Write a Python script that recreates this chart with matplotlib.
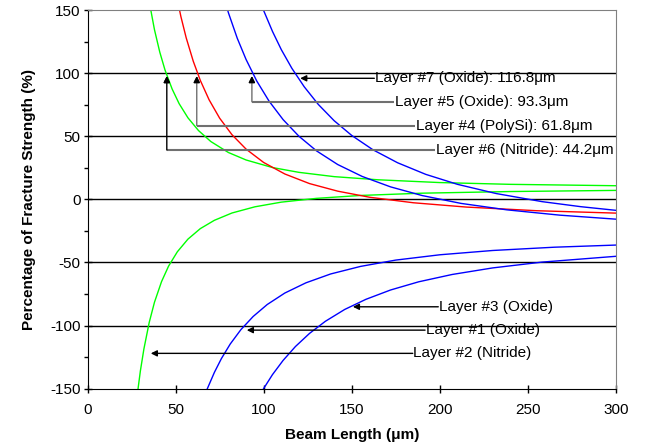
import matplotlib
matplotlib.use("Agg")
import matplotlib.pyplot as plt
from matplotlib.ticker import MultipleLocator

plt.rcParams['font.family'] = ['Liberation Sans', 'DejaVu Sans']
plt.rcParams['axes.unicode_minus'] = False

# values (beam length in um, % of fracture strength)
l6_len = [32, 35, 38, 41, 44, 48, 52, 57, 63, 70, 80, 90, 105, 120, 140, 165, 200, 240, 300]
l6_pct = [185.8, 156.8, 134.4, 116.7, 102.4, 87.5, 75.8, 64.6, 54.5, 45.8, 37.1, 31.2, 25.2,
          21.4, 18.0, 15.5, 13.3, 11.9, 10.8]

l2_len = [26, 28, 30, 32, 35, 38, 42, 46, 51, 57, 64, 72, 82, 95, 110, 130, 155, 190, 240, 300]
l2_pct = [-183.8, -157.3, -135.9, -118.5, -97.6, -81.5, -65.2, -52.9, -41.5, -31.5, -23.2,
          -16.6, -10.8, -5.9, -2.2, 0.8, 3.1, 4.9, 6.2, 7.1]

l4_len = [50, 53, 56, 60, 64, 69, 75, 82, 90, 100, 112, 126, 142, 160, 185, 215, 255, 300]
l4_pct = [164.7, 144.8, 128.0, 109.5, 94.3, 78.9, 64.3, 51.2, 39.8, 29.2, 20.1, 12.5, 6.5,
          1.7, -2.7, -6.1, -9.0, -10.9]

l5_len = [76, 80, 85, 90, 96, 103, 111, 120, 130, 142, 156, 172, 190, 212, 238, 268, 300]
l5_pct = [166.7, 147.7, 127.6, 110.8, 93.9, 77.9, 63.2, 50.0, 38.4, 27.6, 18.1, 9.9, 3.0,
          -3.2, -8.3, -12.5, -15.7]

l7_len = [96, 100, 105, 110, 116, 123, 131, 140, 150, 162, 176, 192, 210, 232, 258, 280, 300]
l7_pct = [164.6, 149.5, 133.0, 118.6, 103.8, 89.2, 75.2, 62.3, 50.6, 39.3, 29.0, 19.8, 11.9,
          4.6, -1.8, -5.8, -8.7]

l1_len = [62, 65, 68, 72, 76, 81, 87, 94, 102, 112, 124, 138, 155, 175, 200, 230, 265, 300]
l1_pct = [-174.4, -161.4, -150.0, -137.1, -126.1, -114.6, -103.3, -92.8, -83.3, -74.2, -66.1,
          -59.1, -53.1, -48.1, -43.9, -40.5, -37.9, -36.2]

l3_len = [92, 96, 100, 105, 111, 118, 126, 135, 146, 158, 172, 188, 207, 230, 258, 300]
l3_pct = [-171.1, -159.8, -149.8, -138.8, -127.6, -116.6, -106.2, -96.6, -87.2, -79.2, -71.8,
          -65.3, -59.5, -54.3, -49.7, -45.1]

GREEN = '#00FF00'
RED = '#FF0000'
BLUE = '#0000FF'
LEADER = '#707070'

fig = plt.figure(figsize=(6.45, 4.47), dpi=100)
ax = fig.add_axes([0.1357, 0.1304, 0.8194, 0.8472])

for y in [-100, -50, 0, 50, 100]:
    ax.axhline(y, color='black', lw=1.0, zorder=1)

ax.plot(l6_len, l6_pct, color=GREEN, lw=1.0, zorder=2)
ax.plot(l2_len, l2_pct, color=GREEN, lw=1.0, zorder=2)
ax.plot(l4_len, l4_pct, color=RED, lw=1.0, zorder=2)
ax.plot(l5_len, l5_pct, color=BLUE, lw=1.0, zorder=2)
ax.plot(l7_len, l7_pct, color=BLUE, lw=1.0, zorder=2)
ax.plot(l1_len, l1_pct, color=BLUE, lw=1.0, zorder=2)
ax.plot(l3_len, l3_pct, color=BLUE, lw=1.0, zorder=2)

ax.set_xlim(0, 300)
ax.set_ylim(-150, 150)
ax.xaxis.set_major_locator(MultipleLocator(50))
ax.yaxis.set_major_locator(MultipleLocator(50))
ax.yaxis.set_minor_locator(MultipleLocator(25))
ax.tick_params(axis='both', which='major', direction='inout', length=6, width=1,
               labelsize=11, pad=2)
ax.tick_params(axis='x', which='major', pad=7)
ax.tick_params(axis='y', which='minor', direction='out', length=3, width=1)
for s in ['top', 'right']:
    ax.spines[s].set_color('#808080')
for s in ['left', 'bottom']:
    ax.spines[s].set_color('black')

ax.set_xlabel('Beam Length (μm)', fontsize=11, fontweight='bold', labelpad=8)
ax.set_ylabel('Percentage of Fracture Strength (%)', fontsize=11, fontweight='bold',
              labelpad=10)

arrow = dict(arrowstyle='-|>', color='black', lw=1.0, mutation_scale=9,
             shrinkA=0, shrinkB=0)
fs = 11

# upper labels: elbow leaders
ax.annotate('', xy=(120.7, 95.9), xytext=(162.8, 95.9), arrowprops=arrow, zorder=4)
ax.text(163.2, 96.5, 'Layer #7 (Oxide): 116.8μm', fontsize=fs, ha='left', va='center')

upper = [
    (93.3, 77.3, 174.0, 'Layer #5 (Oxide): 93.3μm', LEADER),
    (62.0, 58.5, 186.0, 'Layer #4 (PolySi): 61.8μm', LEADER),
    (45.0, 39.1, 197.3, 'Layer #6 (Nitride): 44.2μm', 'black'),
]
for tx, ey, lx, label, vcol in upper:
    ax.plot([tx, lx], [ey, ey], color=LEADER, lw=1.5, zorder=3, solid_capstyle='butt')
    ax.annotate('', xy=(tx, 97.7), xytext=(tx, ey), arrowprops=dict(arrow, color=vcol),
                zorder=4)
    ax.annotate('', xy=(tx, 97.7), xytext=(tx, 93), arrowprops=arrow, zorder=5)
    ax.text(lx + 0.4, ey, label, fontsize=fs, ha='left', va='center')

lower = [
    (150.6, -85.1, 199.1, 'Layer #3 (Oxide)'),
    (90.4, -103.6, 191.6, 'Layer #1 (Oxide)'),
    (35.9, -122.0, 184.6, 'Layer #2 (Nitride)'),
]
for tx, ty, lx, label in lower:
    ax.annotate('', xy=(tx, ty), xytext=(lx, ty), arrowprops=arrow, zorder=4)
    ax.text(lx + 0.4, ty, label, fontsize=fs, ha='left', va='center')

fig.savefig('out.png', dpi=100)
